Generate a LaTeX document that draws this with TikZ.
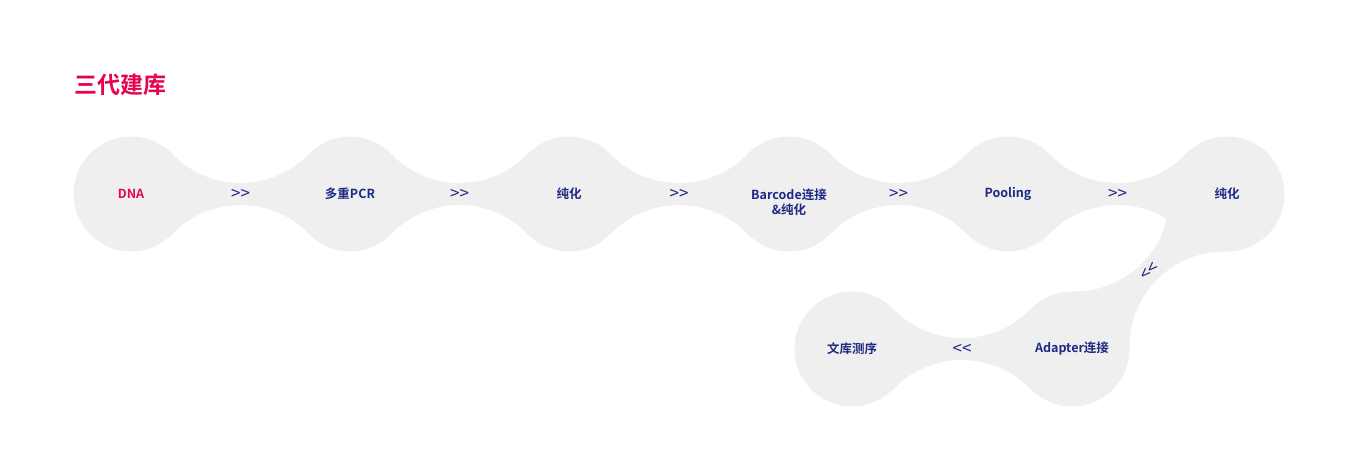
\documentclass[tikz,border=0pt]{standalone}
\usepackage{fontspec}
\usetikzlibrary{calc}
\setmainfont{Noto Sans CJK SC}[BoldFont={* Bold}]
\definecolor{blobgray}{HTML}{EFEFEF}
\definecolor{ink}{HTML}{1E2A84}
\definecolor{hot}{HTML}{E5054E}
\begin{document}
\begin{tikzpicture}[x=1pt,y=1pt,
  lbl/.style={font=\bfseries\fontsize{12.5}{15}\selectfont, text=ink, align=center},
  arr/.style={font=\fontsize{17}{17}\selectfont, text=ink}]
\useasboundingbox (0,0) rectangle (1351,-467);
\def\r{57.5}
\foreach \n/\x/\y in {c1/131/-194, c2/350/-194, c3/569/-194, c4/789/-194, c5/1008/-194, c6/1227/-194, c7/1072/-349, c8/852/-349}{
  \coordinate (\n) at (\x,\y);
  \fill[blobgray] (\n) circle (\r);
}
\foreach \a/\xa/\ya/\xb/\yb in {c1/131/-194/350/-194, c2/350/-194/569/-194, c3/569/-194/789/-194, c4/789/-194/1008/-194, c5/1008/-194/1227/-194, c6/1227/-194/1072/-349, c7/1072/-349/852/-349}{
  \pgfmathsetmacro\dd{veclen(\xb-\xa,\yb-\ya)}
  \pgfmathsetmacro\ANG{atan2(\yb-\ya,\xb-\xa)}
  \pgfmathsetmacro\AA{\dd/2}
  \pgfmathsetmacro\RRR{(\AA*\AA+11*11-\r*\r)/(2*(\r-11))}
  \pgfmathsetmacro\AL{atan2(11+\RRR,\AA)}
  \fill[blobgray, shift={(\a)}, rotate=\ANG]
    ($(\AA,11+\RRR)+(180+\AL:\RRR)$) arc[start angle=180+\AL, end angle=360-\AL, radius=\RRR]
    -- ($(\AA,-11-\RRR)+(\AL:\RRR)$) arc[start angle=\AL, end angle=180-\AL, radius=\RRR] -- cycle;
}
\node[font=\bfseries\fontsize{23}{26}\selectfont, text=hot, anchor=west, inner sep=0pt] (title) at (74,-85) {三代建库};
\node[lbl, text=hot] (t1) at (c1) {DNA};
\node[lbl] (t2) at (c2) {多重PCR};
\node[lbl] (t3) at (c3) {纯化};
\node[lbl] (t4) at ($(c4)+(0,-8)$) {Barcode连接\\\&纯化};
\node[lbl] (t5) at (c5) {Pooling};
\node[lbl] (t6) at (c6) {纯化};
\node[lbl] (t7) at (c7) {Adapter连接};
\node[lbl] (t8) at (c8) {文库测序};
\node[arr] (a1) at ($(c1)!0.5!(c2)$) {>{}>};
\node[arr] (a2) at ($(c2)!0.5!(c3)$) {>{}>};
\node[arr] (a3) at ($(c3)!0.5!(c4)$) {>{}>};
\node[arr] (a4) at ($(c4)!0.5!(c5)$) {>{}>};
\node[arr] (a5) at ($(c5)!0.5!(c6)$) {>{}>};
\node[arr, rotate=45] (a6) at ($(c6)!0.5!(c7)$) {<{}<};
\node[arr] (a7) at ($(c7)!0.5!(c8)$) {<{}<};
\end{tikzpicture}
\end{document}
